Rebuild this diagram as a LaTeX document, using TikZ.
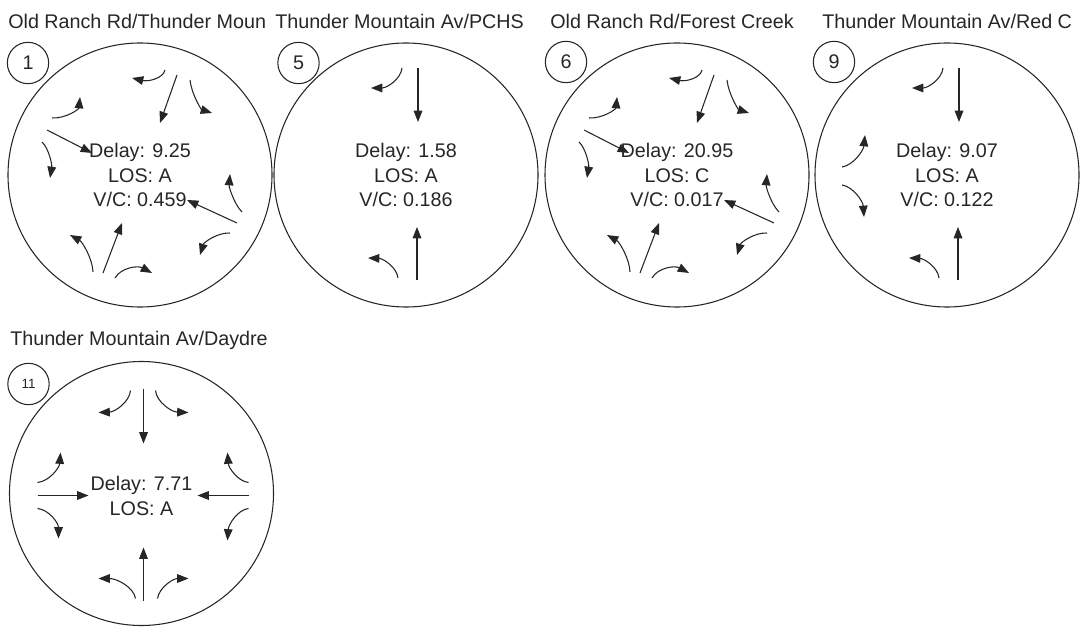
\documentclass[tikz,border=0pt]{standalone}
\usepackage{fontspec}
\setmainfont{Liberation Sans}
\usetikzlibrary{arrows.meta,calc}
\definecolor{ink}{HTML}{262626}
\tikzset{
  big/.style={draw=ink, line width=0.8pt, circle, minimum size=198pt, inner sep=0pt},
  numc/.style={draw=ink, line width=0.8pt, circle, minimum size=31pt, inner sep=0pt, font=\fontsize{14.8}{16}\selectfont, text=ink},
  ttl/.style={anchor=base west, inner sep=0pt, font=\fontsize{14.8}{16}\selectfont, text=ink},
  info/.style={anchor=base, inner sep=0pt, font=\fontsize{14.8}{16}\selectfont, text=ink},
  mv/.style={draw=ink, line width=0.8pt, -{Triangle[length=8.5pt,width=6.5pt]}}
}
\newcommand\trn[3]{\draw[mv] #1 .. controls ($#1!0.55!#2$) and ($#3!0.55!#2$) .. #3;}
\begin{document}
\begin{tikzpicture}[x=0.75pt,y=-0.75pt]
\useasboundingbox (0,0) rectangle (1080,627);
% titles
\node[ttl] (t1) at (8,29) {Old Ranch Rd/Thunder Moun};
\node[ttl] (t5) at (275,29) {Thunder Mountain Av/PCHS};
\node[ttl] (t6) at (550,29) {Old Ranch Rd/Forest Creek};
\node[ttl] (t9) at (822,29) {Thunder Mountain Av/Red C};
\node[ttl] (t11) at (10,345) {Thunder Mountain Av/Daydre};
% big circles
\node[big] (c1) at (140,175) {};
\node[big] (c5) at (406,175) {};
\node[big] (c6) at (677,175) {};
\node[big] (c9) at (947,175) {};
\node[big] (c11) at (141.5,493.5) {};
% number circles
\node[numc] (n1) at (28,63) {1};
\node[numc] (n5) at (298.5,63) {5};
\node[numc] (n6) at (566,62) {6};
\node[numc] (n9) at (834,62) {9};
\node[numc, font=\fontsize{10}{12}\selectfont] (n11) at (28.5,384) {11};
% info texts
\foreach \c/\d/\l/\v in {c1/9.25/A/0.459, c5/1.58/A/0.186, c6/20.95/C/0.017, c9/9.07/A/0.122}{
  \node[info] at ($(\c)+(0,-17)$) {Delay: \d};
  \node[info] at ($(\c)+(0,8)$) {LOS: \l};
  \node[info] at ($(\c)+(0,32)$) {V/C: \v};
}
\node[info] (d11) at ($(c11)+(0,-3.5)$) {Delay: 7.71};
\node[info] (l11) at ($(c11)+(0,21.5)$) {LOS: A};
% pattern for 1 and 6
\foreach \c in {c1,c6}{
\begin{scope}[shift={(\c)}]
  \draw[mv] (37,-100) -- (20,-52);
  \trn{(25,-105)}{(22,-90)}{(-8,-97)}
  \trn{(50,-95)}{(53,-68)}{(72,-62)}
  \trn{(-88,-57)}{(-62,-56)}{(-60,-78)}
  \draw[mv] (-93,-45) -- (-48,-22);
  \trn{(-98,-33)}{(-86,-22)}{(-90,3)}
  \trn{(102,37)}{(88,23)}{(90,-1)}
  \draw[mv] (97,48) -- (47,25);
  \trn{(90,58)}{(67,57)}{(60,80)}
  \trn{(-47,97)}{(-48,72)}{(-70,60)}
  \draw[mv] (-37,98) -- (-18,48);
  \trn{(-25,103)}{(-14,84)}{(12,98)}
\end{scope}
}
% pattern for 5 and 9
\foreach \c in {c5,c9}{
\begin{scope}[shift={(\c)}]
  \draw[mv] (12,-107) -- (12,-53);
  \trn{(-4,-107)}{(-6,-87)}{(-35,-87)}
  \draw[mv] (11,105) -- (11,52);
  \trn{(-8,103)}{(-10,84)}{(-38,83)}
\end{scope}
}
\begin{scope}[shift={(c9)}]
  \trn{(-105,-8)}{(-85,-11)}{(-82,-40)}
  \trn{(-105,10)}{(-85,13)}{(-83,42)}
\end{scope}
% circle 11
\begin{scope}[shift={(c11)}]
  \draw[mv] (2,-105) -- (2,-50);
  \trn{(-11,-103)}{(-13,-82)}{(-43,-81)}
  \trn{(14,-103)}{(16,-82)}{(47,-81)}
  \draw[mv] (2,107) -- (2,54);
  \trn{(-6,105)}{(-9,85)}{(-43,85)}
  \trn{(16,105)}{(19,85)}{(47,85)}
  \draw[mv] (-104,2) -- (-53,2);
  \trn{(-104,-11)}{(-83,-13)}{(-81,-41)}
  \trn{(-104,15)}{(-83,17)}{(-83,45)}
  \draw[mv] (107,2) -- (56,2);
  \trn{(107,-11)}{(88,-13)}{(86,-41)}
  \trn{(107,15)}{(88,17)}{(86,47)}
\end{scope}
\end{tikzpicture}
\end{document}
